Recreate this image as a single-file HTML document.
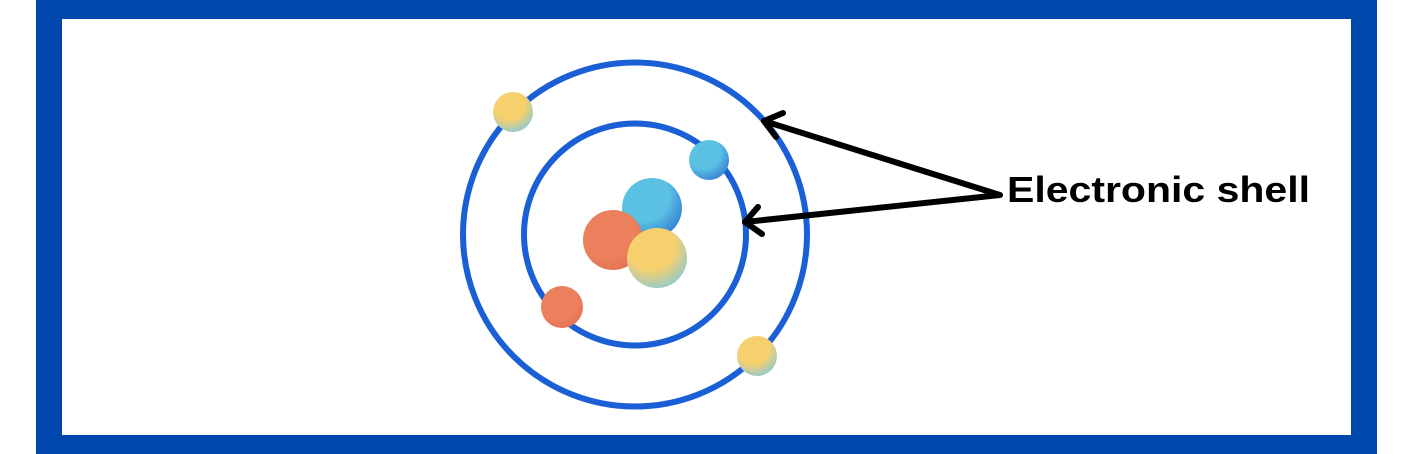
<!DOCTYPE html>
<html><head><meta charset="utf-8"><style>
html,body{margin:0;padding:0;background:#fff;width:1414px;height:454px;overflow:hidden}
</style></head><body>
<svg width="1414" height="454" viewBox="0 0 1414 454">
<defs>
<radialGradient id="yel" cx="0.4" cy="0.3" r="0.8"><stop offset="0.5" stop-color="#f7d06e"/><stop offset="1" stop-color="#7fc9dc"/></radialGradient>
<radialGradient id="blu" cx="0.35" cy="0.3" r="0.85"><stop offset="0.5" stop-color="#5bc2e4"/><stop offset="1" stop-color="#2c6ed0"/></radialGradient>
<radialGradient id="org" cx="0.4" cy="0.35" r="0.8"><stop offset="0.6" stop-color="#ec7f5c"/><stop offset="1" stop-color="#e06a50"/></radialGradient>
</defs>
<rect x="36" y="0" width="1341" height="454" fill="#0047ab"/>
<rect x="62" y="19" width="1289" height="416" fill="#fff"/>
<circle cx="635" cy="234.5" r="172" fill="none" stroke="#1a5fd6" stroke-width="6"/>
<circle cx="635" cy="234.5" r="111" fill="none" stroke="#1a5fd6" stroke-width="6"/>
<circle cx="513" cy="112" r="20" fill="url(#yel)"/>
<circle cx="709" cy="160" r="20" fill="url(#blu)"/>
<circle cx="652" cy="208" r="30" fill="url(#blu)"/>
<circle cx="613" cy="240" r="30" fill="url(#org)"/>
<circle cx="657" cy="258" r="30" fill="url(#yel)"/>
<circle cx="562" cy="307" r="21" fill="url(#org)"/>
<circle cx="757" cy="356" r="20" fill="url(#yel)"/>
<g stroke="#000" stroke-width="6" fill="none" stroke-linecap="round" stroke-linejoin="round">
<polyline points="764,121 1000,195 745,222"/>
<polyline points="783,113 764,121 776,137"/>
<polyline points="758,207 745,222 762,234"/>
</g>
<text x="1007" y="202" font-family="Liberation Sans, sans-serif" font-weight="bold" font-size="36" textLength="303" lengthAdjust="spacingAndGlyphs" fill="#000">Electronic shell</text>
</svg>
</body></html>
